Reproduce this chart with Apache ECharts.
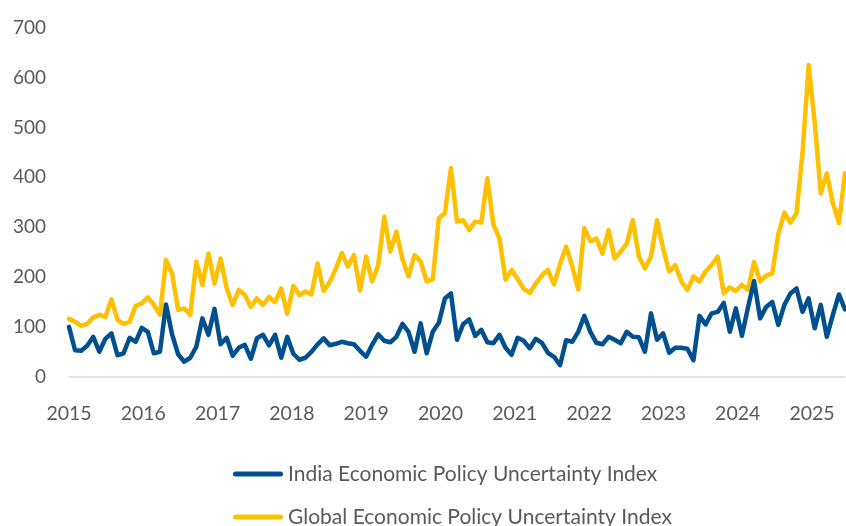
<!DOCTYPE html>
<html>
<head>
<meta charset="utf-8">
<script src="https://cdn.jsdelivr.net/npm/echarts@6/dist/echarts.min.js"></script>
<style>
  html, body { margin: 0; padding: 0; background: #ffffff; }
  #chart { width: 846px; height: 526px; }
</style>
</head>
<body>
<div id="chart"></div>
<script>
// Monthly observations, Jan 2015 – Sep 2025
const months = [];
for (let y = 2015; y <= 2025; y++) {
  for (let m = 1; m <= 12; m++) {
    if (y === 2025 && m > 9) break;
    months.push(y + '-' + String(m).padStart(2, '0'));
  }
}

const yearLabels = [2015, 2016, 2017, 2018, 2019, 2020, 2021, 2022, 2023, 2024, 2025];

const indiaEPU = [
  100, 53, 52, 62, 80, 50, 76, 87, 43, 47, 78, 70,
  98, 90, 47, 50, 145, 85, 45, 30, 38, 60, 117, 84,
  136, 65, 78, 42, 58, 64, 36, 77, 84, 63, 84, 38,
  80, 46, 34, 38, 50, 65, 77, 63, 66, 70, 67, 65,
  52, 40, 64, 85, 72, 69, 80, 106, 90, 50, 107, 47,
  90, 108, 157, 167, 74, 105, 115, 82, 94, 69, 67, 84,
  58, 44, 78, 72, 57, 76, 68, 48, 40, 23, 73, 70,
  90, 122, 90, 68, 65, 80, 74, 67, 90, 80, 79, 50,
  127, 74, 87, 48, 58, 58, 56, 33, 122, 105, 127, 130,
  148, 90, 137, 82, 139, 192, 117, 140, 150, 104, 144, 167,
  177, 130, 157, 97, 144, 80, 124, 165, 135
];

const globalEPU = [
  116, 110, 102, 106, 119, 124, 120, 155, 114, 106, 110, 142,
  147, 159, 144, 124, 234, 207, 134, 137, 124, 231, 184, 247,
  187, 237, 178, 144, 174, 164, 140, 157, 144, 160, 150, 177,
  126, 182, 164, 171, 165, 227, 172, 190, 216, 248, 221, 244,
  173, 241, 191, 224, 321, 251, 291, 236, 201, 244, 231, 191,
  195, 318, 328, 418, 311, 314, 294, 311, 309, 398, 305, 277,
  195, 214, 196, 176, 168, 187, 203, 214, 185, 226, 261, 222,
  175, 298, 272, 277, 247, 294, 237, 251, 267, 314, 241, 217,
  241, 314, 257, 211, 224, 191, 174, 201, 191, 211, 224, 241,
  167, 179, 172, 184, 174, 230, 191, 203, 207, 286, 329, 309,
  328, 450, 625, 510, 368, 408, 348, 308, 408
];

const INDIA = 'India Economic Policy Uncertainty Index';
const GLOBAL = 'Global Economic Policy Uncertainty Index';
const BLUE = '#00508F';
const GOLD = '#FFC000';
const TEXT = '#595959';
const FONT = 'Lato, "Open Sans", sans-serif';

// one legend block per series, stacked under the plot
function legendBlock(name, top) {
  return {
    orient: 'horizontal',
    left: 228,
    top: top,
    itemWidth: 50,
    itemHeight: 5,
    icon: 'path://M2.5,0 H47.5 A2.5,2.5 0 0 1 47.5,5 H2.5 A2.5,2.5 0 0 1 2.5,0 Z',
    data: [name],
    selectedMode: false,
    textStyle: { color: TEXT, fontSize: 21, lineHeight: 24, fontFamily: FONT }
  };
}

const chart = echarts.init(document.getElementById('chart'), null, { renderer: 'canvas' });

chart.setOption({
  animation: false,
  backgroundColor: '#ffffff',
  textStyle: { fontFamily: FONT },
  grid: { left: 69, right: 1, top: 27.7, bottom: 149.3, containLabel: false },
  xAxis: [
    {
      type: 'category',
      data: months,
      boundaryGap: false,
      axisLine: { show: true, lineStyle: { color: '#D9D9D9', width: 1.5 } },
      axisTick: { show: false },
      axisLabel: { show: false },
      splitLine: { show: false }
    },
    {
      // year labels along the bottom
      type: 'value',
      position: 'bottom',
      min: 2015,
      max: 2025.444,
      axisLine: { show: false },
      axisTick: { show: false },
      splitLine: { show: false },
      axisLabel: {
        customValues: yearLabels,
        showMinLabel: true,
        color: TEXT,
        fontSize: 19.5,
        fontFamily: FONT,
        margin: 27,
        formatter: v => String(Math.round(v))
      }
    }
  ],
  yAxis: {
    type: 'value',
    min: 0,
    max: 700,
    interval: 100,
    axisLine: { show: false },
    axisTick: { show: false },
    splitLine: { show: false },
    axisLabel: { color: TEXT, fontSize: 19, fontFamily: FONT, margin: 23 }
  },
  legend: [legendBlock(INDIA, 457), legendBlock(GLOBAL, 500)],
  series: [
    {
      name: GLOBAL,
      type: 'line',
      data: globalEPU,
      xAxisIndex: 0,
      symbol: 'none',
      showSymbol: false,
      z: 2,
      itemStyle: { color: GOLD },
      lineStyle: { color: GOLD, width: 4.5, cap: 'round', join: 'round' }
    },
    {
      name: INDIA,
      type: 'line',
      data: indiaEPU,
      xAxisIndex: 0,
      symbol: 'none',
      showSymbol: false,
      z: 3,
      itemStyle: { color: BLUE },
      lineStyle: { color: BLUE, width: 4.5, cap: 'round', join: 'round' }
    }
  ]
});
</script>
</body>
</html>
